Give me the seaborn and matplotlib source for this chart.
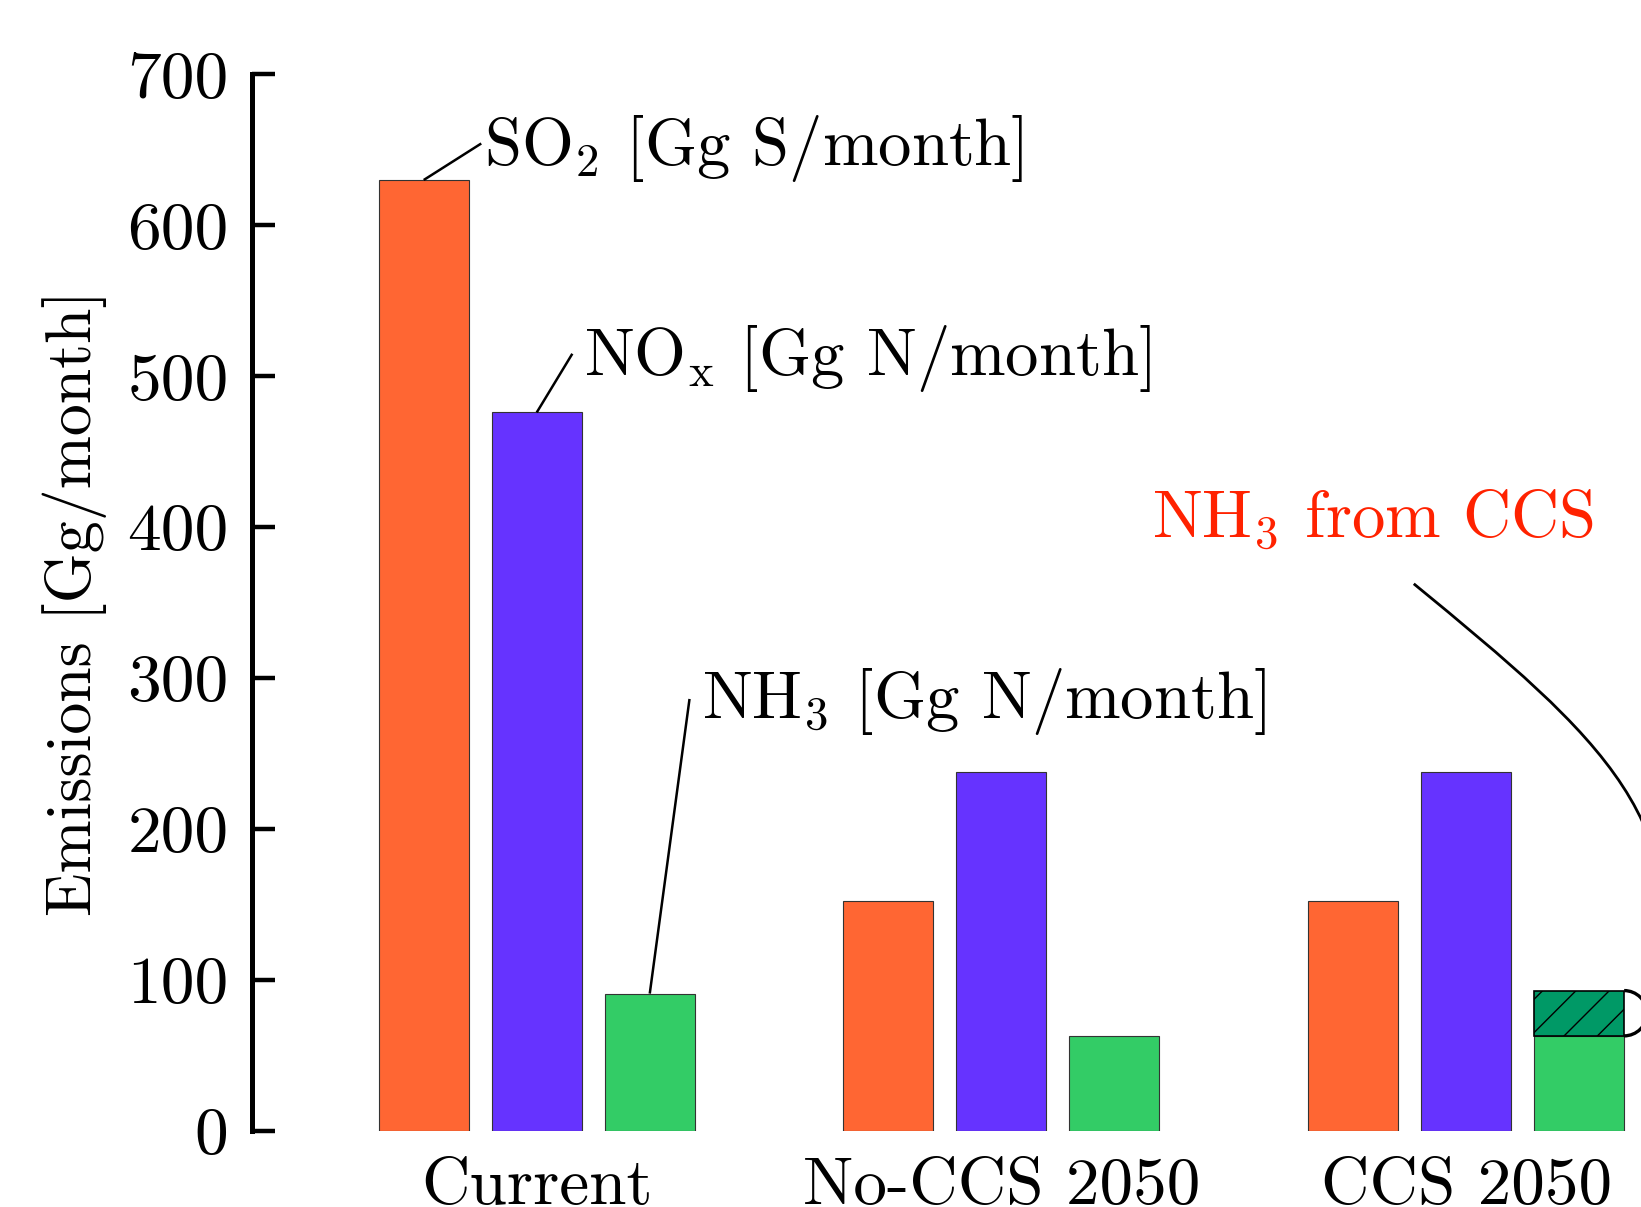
import matplotlib
matplotlib.use("Agg")
import matplotlib.pyplot as plt
from matplotlib.patches import Arc, PathPatch
from matplotlib.path import Path
import seaborn as sns
import pandas as pd

# ---- data ----
scenarios = ["Current", "No-CCS 2050", "CCS 2050"]
species = ["SO2", "NOx", "NH3"]
so2_values = [630, 152.5, 152.5]
nox_values = [476, 238, 238]
nh3_values = [91, 63, 63]
nh3_from_ccs = 30  # extra NH3 in CCS 2050 on top of base NH3
yticks = [0, 100, 200, 300, 400, 500, 600, 700]

palette = ["#FF6633", "#6633FF", "#33CC66"]
ccs_color = "#009966"
red_text = "#FF2200"

rows = []
for i, sc in enumerate(scenarios):
    rows.append((sc, "SO2", so2_values[i]))
    rows.append((sc, "NOx", nox_values[i]))
    rows.append((sc, "NH3", nh3_values[i]))
df = pd.DataFrame(rows, columns=["scenario", "species", "value"])

sns.set_style("ticks")
plt.rcParams["font.family"] = ["cmr10", "DejaVu Serif"]
plt.rcParams["mathtext.fontset"] = "cm"
plt.rcParams["axes.formatter.use_mathtext"] = True
plt.rcParams["hatch.linewidth"] = 0.5
for k in ["text.color", "axes.labelcolor", "xtick.color", "ytick.color",
          "axes.edgecolor"]:
    plt.rcParams[k] = "black"

fig = plt.figure(figsize=(8.205, 6.035), dpi=200)
ax = fig.add_axes([0.1536, 0.063, 0.9133, 0.8754])

sns.barplot(data=df, x="scenario", y="value", hue="species",
            hue_order=species, order=scenarios, palette=palette,
            width=0.7297, gap=0.2037, saturation=1, edgecolor="#333333",
            linewidth=0.4, legend=False, ax=ax, errorbar=None)

ax.set_xlim(-0.6126, 2.6126)
ax.set_ylim(0, 700)
ax.set_yticks(yticks)
ax.set_yticklabels([str(v) for v in yticks])

# hatched NH3 from CCS segment on top of CCS NH3 bar
base_bar = ax.containers[2][2]
bx = base_bar.get_x()
bw = base_bar.get_width()
ax.bar(bx + bw / 2, nh3_from_ccs, bottom=nh3_values[2], width=bw,
       color=ccs_color, edgecolor="black", linewidth=0.6, hatch="//")

for sp in ["top", "right", "bottom"]:
    ax.spines[sp].set_visible(False)
ax.spines["left"].set_linewidth(1.8)
ax.tick_params(axis="y", direction="in", length=8.3, width=1.6, pad=8.5,
               labelsize=24.3)
ax.tick_params(axis="x", length=0, pad=9.5, labelsize=24.2)
ax.set_xlabel("")
ax.set_ylabel("Emissions [Gg/month]", fontsize=23)
ax.yaxis.set_label_coords(-0.097, 0.5)

# ---- annotations ----
def bar_top(container_idx, item_idx):
    p = ax.containers[container_idx][item_idx]
    return p.get_x() + p.get_width() / 2, p.get_height()

fs = 24
lw = 0.9
x0, y0 = bar_top(0, 0)
ax.plot([x0, -0.1194], [y0, 654.2], color="black", lw=lw, solid_capstyle="butt")
ax.text(-0.1126, 639.7, r"SO$_2$ [Gg S/month]", fontsize=fs, ha="left", va="baseline")

x0, y0 = bar_top(1, 0)
ax.plot([x0, 0.0766], [y0, 514.9], color="black", lw=lw, solid_capstyle="butt")
ax.text(0.1014, 501.1, r"NO$_{\mathrm{x}}$ [Gg N/month]", fontsize=fs, ha="left", va="baseline")

x0, y0 = bar_top(2, 0)
ax.plot([x0, 0.3288], [y0, 286.2], color="black", lw=lw, solid_capstyle="butt")
ax.text(0.3559, 273.8, r"NH$_3$ [Gg N/month]", fontsize=fs, ha="left", va="baseline")

ax.text(1.3243, 392.3, r"NH$_3$ from CCS", fontsize=fs, ha="left", va="baseline",
        color=red_text)

# bracket around the CCS segment and curved leader
right_edge = bx + bw
mid = nh3_values[2] + nh3_from_ccs / 2
arc = Arc((right_edge, mid), 0.098, nh3_from_ccs, theta1=-90, theta2=90,
          color="black", lw=1.2, clip_on=False)
ax.add_patch(arc)
apex = (right_edge + 0.049, mid)
verts = [(1.8874, 362.5), (2.2905, 260.6), (2.5158, 201.7), apex]
codes = [Path.MOVETO, Path.CURVE4, Path.CURVE4, Path.CURVE4]
ax.add_patch(PathPatch(Path(verts, codes), facecolor="none", edgecolor="black",
                       lw=1.0, clip_on=False))

fig.savefig("out.png", dpi=200)
